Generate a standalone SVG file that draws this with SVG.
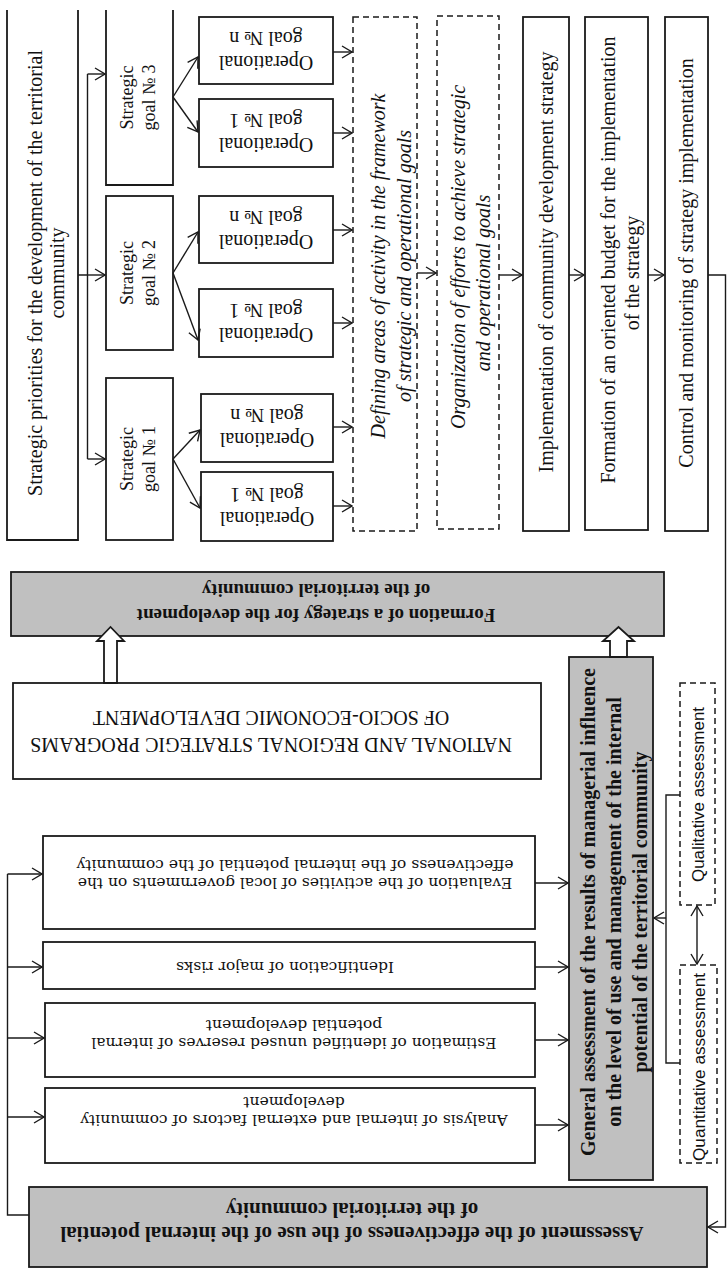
<svg xmlns="http://www.w3.org/2000/svg" width="728" height="1272" viewBox="0 0 728 1272">
<style>
.box{fill:#fff;stroke:#1a1a1a;stroke-width:1.8}
.gray{fill:#c0c0c0;stroke:#1a1a1a;stroke-width:1.8}
.dash{fill:#fff;stroke:#1a1a1a;stroke-width:1.5;stroke-dasharray:6 4}
.open{fill:none;stroke:#1a1a1a;stroke-width:1.8}
.ln{fill:none;stroke:#1a1a1a;stroke-width:1.4}
.arr{marker-end:url(#ah)}
text{font-family:"Liberation Serif","Times New Roman",serif;fill:#111;dominant-baseline:central;text-anchor:middle}
.r20{font-size:20px}
.r18{font-size:18px}
.it{font-size:20px;font-style:italic}
.b19{font-size:19px;font-weight:bold}
.b20{font-size:20px;font-weight:bold}
.b21{font-size:21px;font-weight:bold}
.ds{font-family:"DejaVu Serif",serif;font-size:15.5px}
.sans{font-family:"Liberation Sans",Arial,sans-serif;font-size:16px}
</style>
<defs>
<marker id="ah" markerUnits="userSpaceOnUse" markerWidth="12" markerHeight="14" refX="11" refY="7" orient="auto-start-reverse">
<path d="M1,1 L11,7 L1,13" fill="none" stroke="#1a1a1a" stroke-width="1.4"/>
</marker>
</defs>

<g id="priorities">
<path class="open" d="M7,10 V540 H78 V10"/>
<text class="r20" transform="translate(46,273) rotate(-90)"><tspan x="0" y="-11">Strategic priorities for the development of the territorial</tspan><tspan x="0" y="11">community</tspan></text>
</g>

<g id="goal3">
<path class="open" d="M106,10 V185 H173 V10"/>
<text class="r18" transform="translate(138,97.5) rotate(-90)"><tspan x="0" y="-11">Strategic</tspan><tspan x="0" y="11">goal № 3</tspan></text>
</g>
<g id="goal2">
<rect class="box" x="106" y="196" width="67" height="154"/>
<text class="r18" transform="translate(138,273) rotate(-90)"><tspan x="0" y="-11">Strategic</tspan><tspan x="0" y="11">goal № 2</tspan></text>
</g>
<g id="goal1">
<rect class="box" x="106" y="378" width="67" height="162"/>
<text class="r18" transform="translate(138,459) rotate(-90)"><tspan x="0" y="-11">Strategic</tspan><tspan x="0" y="11">goal № 1</tspan></text>
</g>

<g id="op3n">
<rect class="box" x="199" y="17" width="134" height="67"/>
<text class="r20" transform="translate(266,50.5) rotate(180)"><tspan x="0" y="-12">Operational</tspan><tspan x="0" y="12">goal № n</tspan></text>
</g>
<g id="op31">
<rect class="box" x="199" y="99" width="134" height="68"/>
<text class="r20" transform="translate(266,133) rotate(180)"><tspan x="0" y="-12">Operational</tspan><tspan x="0" y="12">goal № 1</tspan></text>
</g>
<g id="op2n">
<rect class="box" x="199" y="196" width="134" height="67"/>
<text class="r20" transform="translate(266,229.5) rotate(180)"><tspan x="0" y="-12">Operational</tspan><tspan x="0" y="12">goal № n</tspan></text>
</g>
<g id="op21">
<rect class="box" x="199" y="289" width="134" height="68"/>
<text class="r20" transform="translate(266,323) rotate(180)"><tspan x="0" y="-12">Operational</tspan><tspan x="0" y="12">goal № 1</tspan></text>
</g>
<g id="op1n">
<rect class="box" x="201" y="394" width="132" height="68"/>
<text class="r20" transform="translate(267,428) rotate(180)"><tspan x="0" y="-12">Operational</tspan><tspan x="0" y="12">goal № n</tspan></text>
</g>
<g id="op11">
<rect class="box" x="201" y="472" width="132" height="69"/>
<text class="r20" transform="translate(267,506.5) rotate(180)"><tspan x="0" y="-12">Operational</tspan><tspan x="0" y="12">goal № 1</tspan></text>
</g>

<g id="defining">
<rect class="dash" x="353" y="17" width="64" height="514"/>
<text class="it" transform="translate(391,266) rotate(-90)"><tspan x="0" y="-13">Defining areas of activity in the framework</tspan><tspan x="0" y="13">of strategic and operational goals</tspan></text>
</g>
<g id="organization">
<rect class="dash" x="437" y="16" width="62" height="513"/>
<text class="it" transform="translate(470.5,270) rotate(-90)"><tspan x="13" y="-12.5">Organization of efforts to achieve strategic</tspan><tspan x="-13" y="12.5">and operational goals</tspan></text>
</g>
<g id="implementation">
<rect class="box" x="523" y="17" width="46" height="514"/>
<text class="r20" transform="translate(546,262) rotate(-90)"><tspan x="0" y="0">Implementation of community development strategy</tspan></text>
</g>
<g id="budget">
<rect class="box" x="585" y="17" width="63" height="513"/>
<text class="r20" transform="translate(620,266) rotate(-90)"><tspan x="6" y="-12">Formation of an oriented budget for the implementation</tspan><tspan x="-7" y="12">of the strategy</tspan></text>
</g>
<g id="control">
<rect class="box" x="665" y="17" width="43" height="514"/>
<text class="r20" transform="translate(686,263) rotate(-90)"><tspan x="0" y="0">Control and monitoring of strategy implementation</tspan></text>
</g>

<g id="formation">
<rect class="gray" x="11" y="572" width="653" height="64"/>
<text class="b19" transform="translate(316,603.5) rotate(180)"><tspan x="0" y="-12.5">Formation of a strategy for the development</tspan><tspan x="0" y="12.5">of the territorial community</tspan></text>
</g>

<g id="national">
<rect class="box" x="13" y="683" width="528" height="96"/>
<text class="r20" transform="translate(271,731.5) rotate(180)"><tspan x="0" y="-13.5">NATIONAL AND REGIONAL STRATEGIC PROGRAMS</tspan><tspan x="0" y="13.5">OF SOCIO-ECONOMIC DEVELOPMENT</tspan></text>
</g>

<g id="general">
<rect class="gray" x="569" y="657" width="84" height="523"/>
<text class="b20" transform="translate(614,912) rotate(-90)"><tspan x="0" y="-26">General assessment of the results of managerial influence</tspan><tspan x="0" y="0">on the level of use and management of the internal</tspan><tspan x="0" y="26">potential of the territorial community</tspan></text>
</g>

<g id="evaluation">
<rect class="box" x="43" y="836" width="492" height="93"/>
<text class="ds" transform="translate(295,874) rotate(180)"><tspan x="0" y="-9">Evaluation of the activities of local governments on the</tspan><tspan x="0" y="9">effectiveness of the internal potential of the community</tspan></text>
</g>
<g id="identification">
<rect class="box" x="43" y="942" width="492" height="47"/>
<text class="ds" transform="translate(285,967) rotate(180)"><tspan x="0" y="0">Identification of major risks</tspan></text>
</g>
<g id="estimation">
<rect class="box" x="45" y="1003" width="490" height="74"/>
<text class="ds" transform="translate(294,1034) rotate(180)"><tspan x="0" y="-9">Estimation of identified unused reserves of internal</tspan><tspan x="0" y="9">potential development</tspan></text>
</g>
<g id="analysis">
<rect class="box" x="45" y="1088" width="490" height="75"/>
<text class="ds" transform="translate(294,1111) rotate(180)"><tspan x="0" y="-9">Analysis of internal and external factors of community</tspan><tspan x="0" y="9">development</tspan></text>
</g>

<g id="qualitative">
<rect class="dash" x="680" y="683" width="35" height="222"/>
<text class="sans" transform="translate(698,794.5) rotate(-90)" textLength="175" lengthAdjust="spacingAndGlyphs">Qualitative assessment</text>
</g>
<g id="quantitative">
<rect class="dash" x="680" y="965" width="37" height="198"/>
<text class="sans" transform="translate(699,1067) rotate(-90)" textLength="188" lengthAdjust="spacingAndGlyphs">Quantitative assessment</text>
</g>

<g id="assessment">
<rect class="gray" x="29" y="1187" width="678" height="80"/>
<text class="b21" transform="translate(352,1221.5) rotate(180)"><tspan x="0" y="-12">Assessment of the effectiveness of the use of the internal potential</tspan><tspan x="0" y="12">of the territorial community</tspan></text>
</g>

<g id="connectors">
<path class="ln" d="M78,275 H87.5 M87.5,74 V459"/>
<path class="ln arr" d="M87.5,74 H105"/>
<path class="ln arr" d="M87.5,275 H105"/>
<path class="ln arr" d="M87.5,459 H105"/>
<path class="ln arr" d="M173,97 L198,57"/>
<path class="ln arr" d="M173,97 L198,132"/>
<path class="ln arr" d="M173,273 L198,232"/>
<path class="ln arr" d="M173,273 L198,340"/>
<path class="ln arr" d="M173,459 L200,430"/>
<path class="ln arr" d="M173,459 L200,508"/>
<path class="ln arr" d="M333,52 H352"/>
<path class="ln arr" d="M333,133 H352"/>
<path class="ln arr" d="M333,230 H352"/>
<path class="ln arr" d="M333,323 H352"/>
<path class="ln arr" d="M333,427 H352"/>
<path class="ln arr" d="M333,506 H352"/>
<path class="ln arr" d="M417,273 H436"/>
<path class="ln arr" d="M499,275 H522"/>
<path class="ln arr" d="M569,275 H584"/>
<path class="ln arr" d="M648,275 H664"/>
<path class="ln arr" d="M708,275 H725.5 V1227 H708"/>
<path class="ln" d="M29,1215 H7.5 V874"/>
<path class="ln arr" d="M7.5,874 H42"/>
<path class="ln arr" d="M7.5,967 H42"/>
<path class="ln arr" d="M7.5,1038 H44"/>
<path class="ln arr" d="M7.5,1117 H44"/>
<path class="ln arr" d="M535,883 H568"/>
<path class="ln arr" d="M535,967 H568"/>
<path class="ln arr" d="M535,1040 H568"/>
<path class="ln arr" d="M535,1125 H568"/>
<path class="ln" d="M680,795 H666 V1063 H680"/>
<path class="ln arr" d="M666,918 H654"/>
<path class="ln" d="M697,906 V964" marker-start="url(#ah)" marker-end="url(#ah)"/>
<polygon class="box" stroke-width="1.5" points="104,683 104,641 97,641 110.5,627 124,641 117,641 117,683"/>
<polygon class="box" stroke-width="1.5" points="610,657 610,641 603,641 618.5,627 634,641 627,641 627,657"/>
</g>
</svg>
